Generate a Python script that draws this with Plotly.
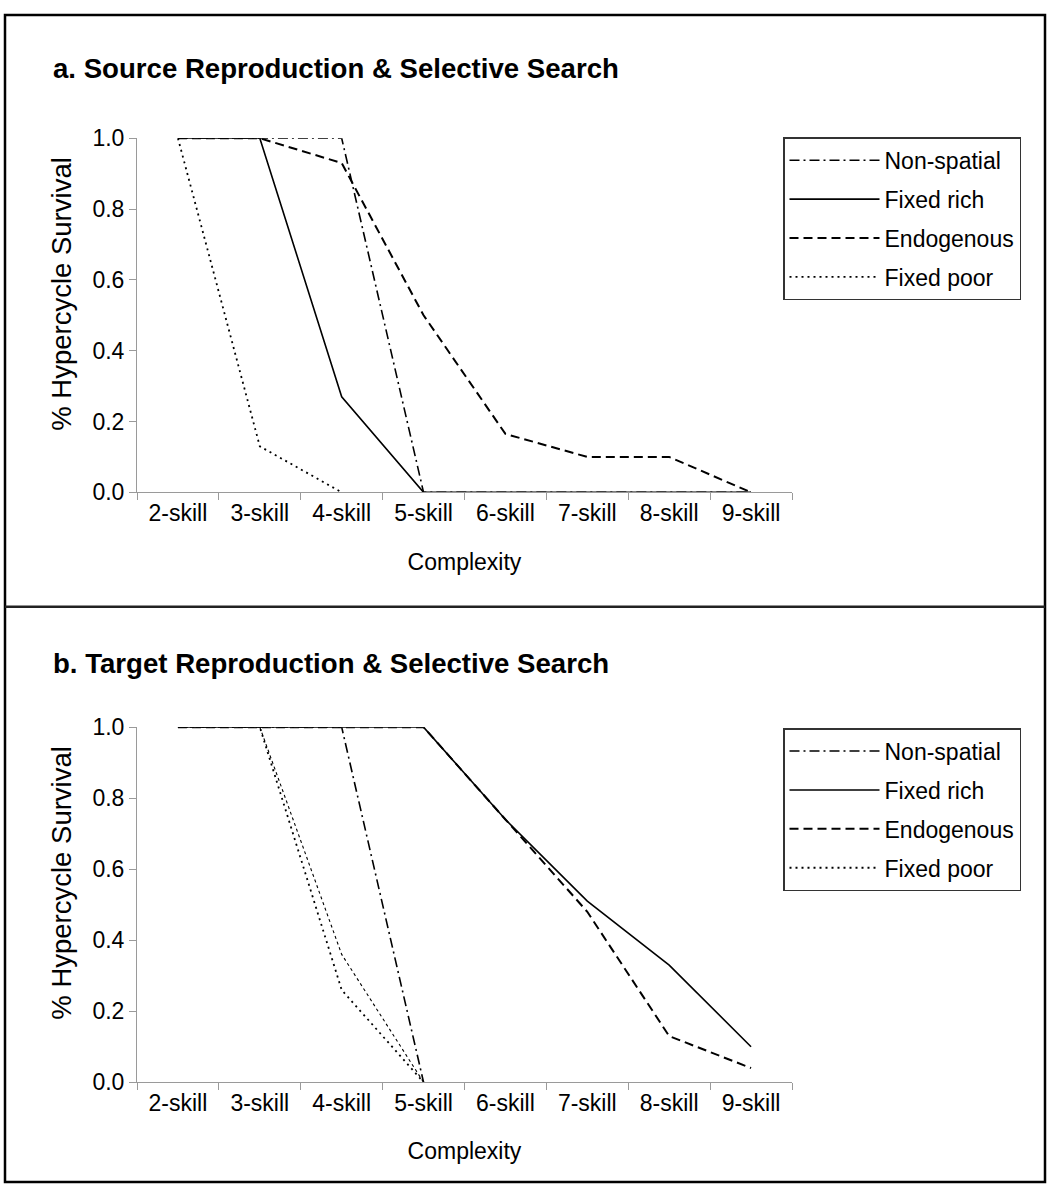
import plotly.graph_objects as go

# Complexity levels on the x axis
categories = ["2-skill", "3-skill", "4-skill", "5-skill", "6-skill", "7-skill", "8-skill", "9-skill"]
y_ticks = [0.0, 0.2, 0.4, 0.6, 0.8, 1.0]

# a. Source reproduction & selective search
a_non_spatial = [1.0, 1.0, 1.0, 0.0, 0.0, 0.0, 0.0, 0.0]
a_fixed_rich = [1.0, 1.0, 0.27, 0.0, 0.0, 0.0, 0.0, 0.0]
a_endogenous = [1.0, 1.0, 0.93, 0.50, 0.165, 0.10, 0.10, 0.0]
a_fixed_poor = [1.0, 0.13, 0.0, None, None, None, None, None]

# b. Target reproduction & selective search
b_non_spatial = [1.0, 1.0, 1.0, 0.0, None, None, None, None]
b_fixed_rich = [1.0, 1.0, 1.0, 1.0, 0.74, 0.51, 0.33, 0.10]
b_endogenous = [1.0, 1.0, 1.0, 1.0, 0.74, 0.48, 0.13, 0.04]
b_fixed_poor = [1.0, 1.0, 0.26, 0.0, None, None, None, None]
b_fixed_poor_2 = [None, 1.0, 0.36, 0.0, None, None, None, None]

series_names = ["Non-spatial", "Fixed rich", "Endogenous", "Fixed poor"]
line_styles = {
    "Non-spatial": ("10px,4px,2px,4px", 1.6),
    "Fixed rich": ("solid", 1.6),
    "Endogenous": ("9px,5px", 2.0),
    "Fixed poor": ("2px,4px", 1.8),
}

W, H = 1047, 1197
FONT = "Liberation Sans, Arial, Helvetica, sans-serif"


def px_x(x):
    return x / W


def px_y(y):
    return 1 - y / H


fig = go.Figure()

panels = [
    ("x", "y", "legend", [a_non_spatial, a_fixed_rich, a_endogenous, a_fixed_poor], []),
    ("x2", "y2", "legend2", [b_non_spatial, b_fixed_rich, b_endogenous, b_fixed_poor], [b_fixed_poor_2]),
]

for p, (xa, ya, leg, series, extras) in enumerate(panels):
    for name, values in zip(series_names, series):
        dash, width = line_styles[name]
        fig.add_trace(go.Scatter(
            x=categories, y=values, name=name, mode="lines",
            line=dict(color="black", width=width, dash=dash),
            xaxis=xa, yaxis=ya, legend=leg, legendgroup=f"{leg}-{name}",
            cliponaxis=False, connectgaps=False,
        ))
    for values in extras:
        fig.add_trace(go.Scatter(
            x=categories, y=values, name="Fixed poor", mode="lines",
            line=dict(color="black", width=1.1, dash="3px,3px"),
            xaxis=xa, yaxis=ya, showlegend=False, cliponaxis=False,
        ))

x_domain = [px_x(137), px_x(792)]
y_domains = [[px_y(490), px_y(128)], [px_y(1093), px_y(730)]]

axis_common = dict(showgrid=False, zeroline=False, showline=True, linecolor="#9a9a9a",
                   linewidth=1, ticks="outside", tickcolor="#9a9a9a", ticklen=7,
                   tickfont=dict(family=FONT, size=23, color="black"))

layout = dict(
    width=W, height=H,
    margin=dict(l=0, r=0, t=0, b=0),
    paper_bgcolor="white", plot_bgcolor="white",
    font=dict(family=FONT, color="black"),
)

for i, (xa, ya) in enumerate([("xaxis", "yaxis"), ("xaxis2", "yaxis2")]):
    layout[xa] = dict(
        axis_common, type="category", categoryorder="array", categoryarray=categories,
        range=[-0.5, len(categories) - 0.5], tickson="boundaries", domain=x_domain,
        anchor="y" if i == 0 else "y2",
        title=dict(text="Complexity", font=dict(family=FONT, size=23, color="black"), standoff=28),
    )
    layout[ya] = dict(
        axis_common, range=[0, 1.0], tickvals=y_ticks, tickformat=".1f", domain=y_domains[i],
        anchor="x" if i == 0 else "x2",
    )

legend_common = dict(
    xanchor="left", yanchor="top", bgcolor="white", bordercolor="#333", borderwidth=1.5,
    font=dict(family=FONT, size=23, color="black"), itemwidth=90, tracegroupgap=6,
    traceorder="grouped",
)
layout["legend"] = dict(legend_common, x=px_x(783), y=px_y(127))
layout["legend2"] = dict(legend_common, x=px_x(783), y=px_y(731))

fig.update_layout(**layout)

# Panel titles and the rotated y-axis titles
for text, y_title, y_axis_title in [("a. Source Reproduction & Selective Search", 57, 287),
                                    ("b. Target Reproduction & Selective Search", 665, 889)]:
    fig.add_annotation(text=f"<b>{text}</b>", xref="paper", yref="paper",
                       x=px_x(51), y=px_y(y_title), xanchor="left", yanchor="middle",
                       showarrow=False, font=dict(family=FONT, size=27.6, color="black"))
    fig.add_annotation(text="% Hypercycle Survival", xref="paper", yref="paper",
                       x=px_x(62), y=px_y(y_axis_title), xanchor="center", yanchor="middle",
                       textangle=-90, showarrow=False,
                       font=dict(family=FONT, size=27.5, color="black"))

# Frame around both panels and the divider between them
fig.add_shape(type="rect", xref="paper", yref="paper",
              x0=px_x(5), x1=px_x(1045), y0=px_y(1195), y1=px_y(2),
              line=dict(color="black", width=2.5))
fig.add_shape(type="line", xref="paper", yref="paper",
              x0=px_x(5), x1=px_x(1045), y0=px_y(607), y1=px_y(607),
              line=dict(color="#222", width=2.5))

fig.write_html("out.html")
